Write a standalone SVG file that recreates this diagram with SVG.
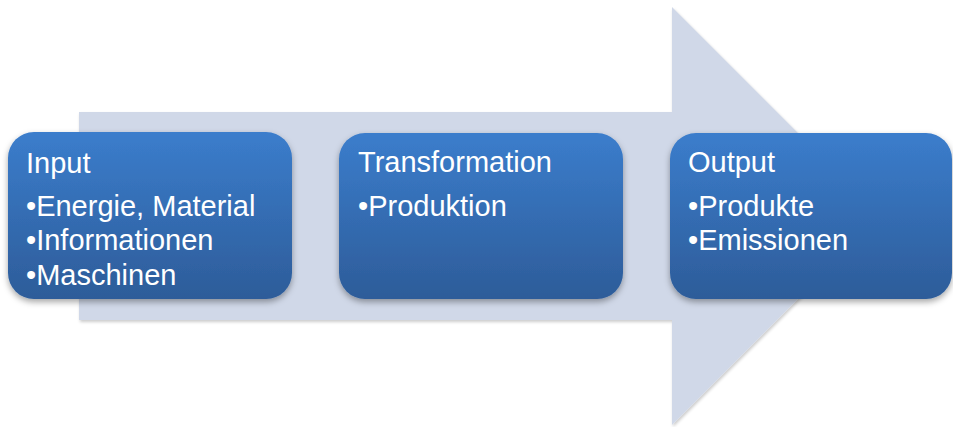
<svg xmlns="http://www.w3.org/2000/svg" width="953" height="427" viewBox="0 0 953 427">
<style>
.box{fill:url(#g);filter:url(#sh)}
.t{font-family:"Liberation Sans",Arial,sans-serif;font-size:29px;fill:#ffffff}
</style>
<defs>
<linearGradient id="g" x1="0" y1="0" x2="0" y2="1">
<stop offset="0" stop-color="#3b7dcc"/>
<stop offset="1" stop-color="#2d5c99"/>
</linearGradient>
<filter id="sh" x="-10%" y="-10%" width="120%" height="130%">
<feDropShadow dx="0" dy="3" stdDeviation="3" flood-color="#000" flood-opacity="0.35"/>
</filter>
<filter id="ash" x="-5%" y="-5%" width="110%" height="110%">
<feDropShadow dx="1" dy="2" stdDeviation="1.5" flood-color="#000" flood-opacity="0.2"/>
</filter>
</defs>
<g id="arrow">
<polygon points="79,112 672,112 672,7 881,216 672,425 672,320 79,320" fill="#d0d8e8" filter="url(#ash)"/>
</g>
<g id="connectors"/>
<g id="input">
<rect class="box" x="8" y="132" width="284" height="167" rx="26"/>
<text class="t" x="26" y="173">Input</text>
<text class="t" x="26" y="216">•Energie, Material</text>
<text class="t" x="26" y="250">•Informationen</text>
<text class="t" x="26" y="285">•Maschinen</text>
</g>
<g id="transformation">
<rect class="box" x="339" y="133" width="284" height="166" rx="26"/>
<text class="t" x="358" y="172">Transformation</text>
<text class="t" x="358" y="216">•Produktion</text>
</g>
<g id="output">
<rect class="box" x="670" y="133" width="282" height="166" rx="26"/>
<text class="t" x="688" y="172">Output</text>
<text class="t" x="688" y="216">•Produkte</text>
<text class="t" x="688" y="250">•Emissionen</text>
</g>
</svg>
